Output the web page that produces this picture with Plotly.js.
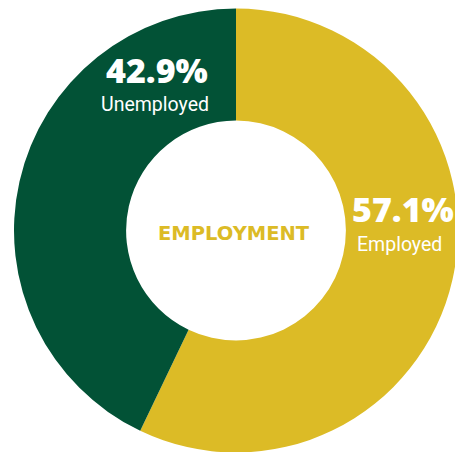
<!DOCTYPE html>
<html>
<head>
<meta charset="utf-8">
<script src="https://cdn.plot.ly/plotly-3.0.1.min.js"></script>
<style>
html,body{margin:0;padding:0;overflow:hidden;background:#fff;width:455px;height:452px;}
#chart{width:472px;height:460px;}
</style>
</head>
<body>
<div id="chart"></div>
<script>
const categories = ["Employed", "Unemployed"];
const values = [57.1, 42.9];
const colors = ["#DCBB26", "#025236"];
const centerTitle = "EMPLOYMENT";

const W = 472, H = 460;
const px = x => x / W;
const py = y => (H - y) / H;

const trace = {
  type: "pie",
  labels: categories,
  values: values,
  sort: false,
  direction: "clockwise",
  rotation: 0,
  hole: 0.495,
  marker: {colors: colors, line: {width: 0}},
  textinfo: "none",
  hoverinfo: "skip",
  showlegend: false,
  domain: {x: [px(14), px(458)], y: [py(452.5), py(8.5)]}
};

const pct = v => v.toFixed(1) + "%";
const labelPos = [
  {pct: [403, 209], name: [399, 244]},
  {pct: [157, 70], name: [155, 104]}
];
const annotations = [];
categories.forEach((c, i) => {
  annotations.push({
    text: pct(values[i]), xref: "paper", yref: "paper",
    x: px(labelPos[i].pct[0]), y: py(labelPos[i].pct[1]),
    xanchor: "center", yanchor: "middle", showarrow: false,
    font: {family: "Open Sans", size: 34, color: "#ffffff", weight: 800}
  });
  annotations.push({
    text: c, xref: "paper", yref: "paper",
    x: px(labelPos[i].name[0]), y: py(labelPos[i].name[1]),
    xanchor: "center", yanchor: "middle", showarrow: false,
    font: {family: "Roboto", size: 19.5, color: "#ffffff", stretch: "condensed"}
  });
});
annotations.push({
  text: centerTitle, xref: "paper", yref: "paper",
  x: px(234), y: py(233), xanchor: "center", yanchor: "middle", showarrow: false,
  font: {family: "DejaVu Sans", size: 19.5, color: "#DCBB26", weight: 700}
});

Plotly.newPlot("chart", [trace], {
  width: W, height: H,
  margin: {l: 0, r: 0, t: 0, b: 0},
  paper_bgcolor: "#ffffff",
  annotations: annotations
}, {displayModeBar: false, staticPlot: true});
</script>
</body>
</html>
